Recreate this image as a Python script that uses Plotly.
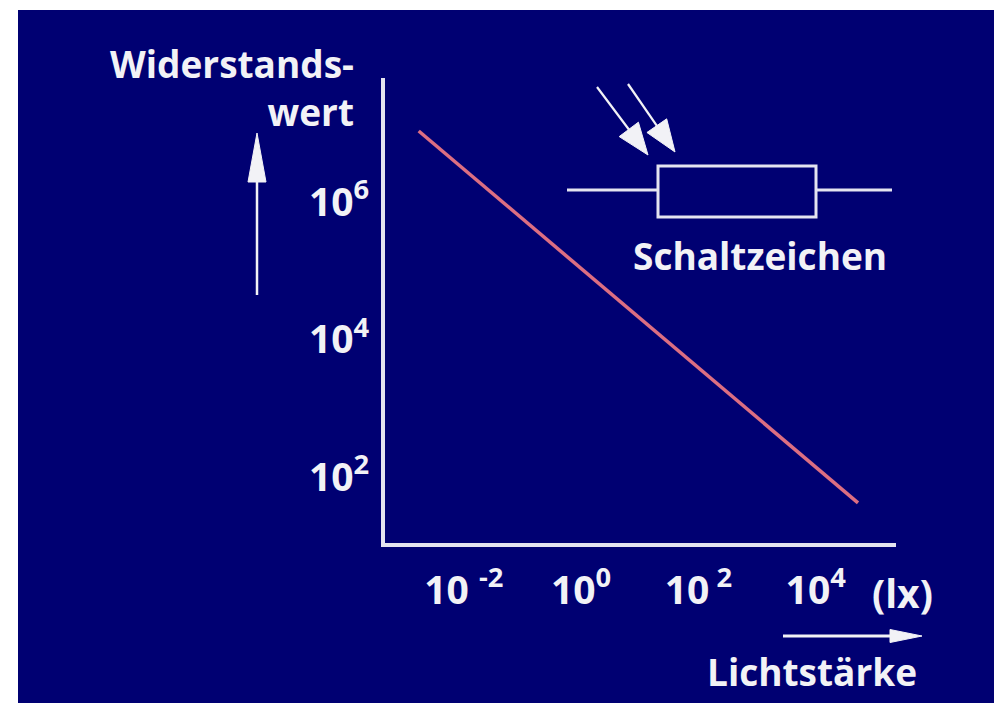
import math
import plotly.graph_objects as go

# ---- data ----
light_lux = [0.0017, 52600]          # Lichtstärke (lx), endpoints of the characteristic
resistance_ohm = [1.08e7, 42]        # Widerstandswert (Ohm)

x_tickvals = [1e-2, 1e0, 1e2, 1e4]
x_ticktext = ["10 <sup>-2</sup>", "10<sup>0</sup>", "10<sup> 2</sup>", "10<sup>4</sup>"]
y_tickvals = [1e2, 1e4, 1e6]
y_ticktext = ["10<sup>2</sup>", "10<sup>4</sup>", "10<sup>6</sup>"]

x_range_log = [-3.344, 5.369]
y_range_log = [1.04, 7.804]

# ---- styling ----
BG = "#000072"
FG = "#f2f2f6"
LINE_FG = "#e4e4f0"
RED = "#dc6e82"
FONT = "Open Sans"
FS = 37

OFF = 8                      # page body margin of the html page
W, H = 1002 - OFF, 703 - OFF
# plot area in page pixels
L, R, T, B = 385, 896, 78, 543


def px(x):
    return (x - L) / (R - L)


def py(y):
    return (B - y) / (B - T)


fig = go.Figure()
fig.add_trace(go.Scatter(x=light_lux, y=resistance_ohm, mode="lines",
                         line=dict(color=RED, width=3.5), hoverinfo="skip",
                         showlegend=False))

shapes = []
# dark blue slide background
shapes.append(dict(type="rect", xref="paper", yref="paper", layer="below",
                   x0=px(18), x1=px(1010), y0=py(710), y1=py(10),
                   fillcolor=BG, line=dict(width=0)))


def arrow(x0, y0, x1, y1, head_len, head_half, width=2.5):
    dx, dy = x1 - x0, y1 - y0
    n = math.hypot(dx, dy)
    ux, uy = dx / n, dy / n
    bx, by = x1 - ux * head_len, y1 - uy * head_len
    pxv, pyv = -uy, ux
    shapes.append(dict(type="line", xref="paper", yref="paper",
                       x0=px(x0), y0=py(y0), x1=px(bx + ux * 2), y1=py(by + uy * 2),
                       line=dict(color=FG, width=width)))
    c1 = (bx + pxv * head_half, by + pyv * head_half)
    c2 = (bx - pxv * head_half, by - pyv * head_half)
    path = "M {} {} L {} {} L {} {} Z".format(px(x1), py(y1), px(c1[0]), py(c1[1]),
                                               px(c2[0]), py(c2[1]))
    shapes.append(dict(type="path", xref="paper", yref="paper", path=path,
                       fillcolor=FG, line=dict(color=FG, width=1)))


# axis direction arrows
arrow(257, 295, 257, 133, 49, 9, width=2.5)
arrow(783, 636, 922, 636, 32, 6.5, width=3)
# light arrows of the symbol
arrow(597, 87, 648, 155, 32, 12, width=2.2)
arrow(628, 84, 675, 152, 32, 12, width=2.2)

# resistor symbol
shapes.append(dict(type="rect", xref="paper", yref="paper",
                   x0=px(658), x1=px(816), y0=py(217), y1=py(166),
                   line=dict(color=LINE_FG, width=3)))
shapes.append(dict(type="line", xref="paper", yref="paper",
                   x0=px(567), x1=px(658), y0=py(190), y1=py(190),
                   line=dict(color=LINE_FG, width=3)))
shapes.append(dict(type="line", xref="paper", yref="paper",
                   x0=px(816), x1=px(892), y0=py(190), y1=py(190),
                   line=dict(color=LINE_FG, width=3)))

tfont = dict(family=FONT, size=FS, color=FG, weight="bold")
kfont = dict(family=FONT, size=39, color=FG, weight="bold")
annotations = [
    dict(text="Widerstands-<br>wert", xref="paper", yref="paper",
         x=px(356), y=py(88), xanchor="right", yanchor="middle",
         align="right", showarrow=False, font=tfont),
    dict(text="Schaltzeichen", xref="paper", yref="paper",
         x=px(760), y=py(255), xanchor="center", yanchor="middle",
         showarrow=False, font=tfont),
    dict(text="(lx)", xref="paper", yref="paper",
         x=px(902), y=py(592), xanchor="center", yanchor="middle",
         showarrow=False, font=kfont),
    dict(text="Lichtstärke", xref="paper", yref="paper",
         x=px(812), y=py(671), xanchor="center", yanchor="middle",
         showarrow=False, font=tfont),
]

fig.update_layout(
    width=W, height=H,
    margin=dict(l=L - OFF, r=W - (R - OFF), t=T - OFF, b=H - (B - OFF), pad=0),
    paper_bgcolor="white",
    plot_bgcolor="rgba(0,0,0,0)",
    shapes=shapes,
    annotations=annotations,
    showlegend=False,
    xaxis=dict(type="log", range=x_range_log, showgrid=False, zeroline=False,
               showline=True, linecolor=LINE_FG, linewidth=4,
               tickvals=x_tickvals, ticktext=x_ticktext, ticks="",
               ticklabelstandoff=10, tickfont=kfont),
    yaxis=dict(type="log", range=y_range_log, showgrid=False, zeroline=False,
               showline=True, linecolor=LINE_FG, linewidth=4,
               tickvals=y_tickvals, ticktext=y_ticktext, ticks="",
               ticklabelstandoff=4, tickfont=kfont),
)

fig.write_html("out.html")
